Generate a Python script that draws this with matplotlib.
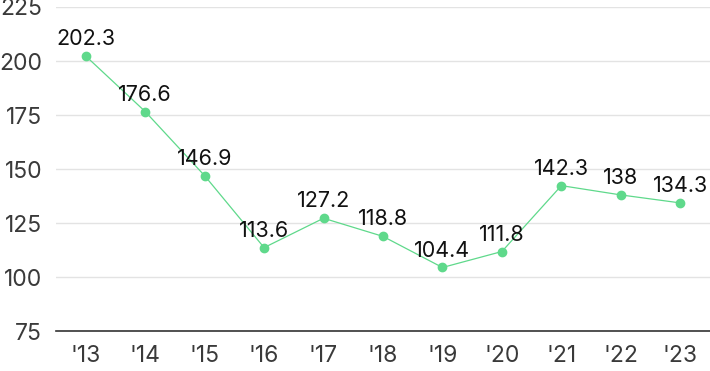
import matplotlib
matplotlib.use("Agg")
import matplotlib.pyplot as plt

plt.rcParams['font.family'] = ['Inter', 'DejaVu Sans']

years = ["'13", "'14", "'15", "'16", "'17", "'18", "'19", "'20", "'21", "'22", "'23"]
values = [202.3, 176.6, 146.9, 113.6, 127.2, 118.8, 104.4, 111.8, 142.3, 138, 134.3]
labels = ["202.3", "176.6", "146.9", "113.6", "127.2", "118.8", "104.4", "111.8", "142.3", "138", "134.3"]
yticks = [75, 100, 125, 150, 175, 200, 225]

fig = plt.figure(figsize=(7.1, 3.71), dpi=100)
ax = fig.add_axes([56/710, 40/371, 654/710, 324/371])

xs = list(range(len(years)))
ax.plot(xs, values, color='#5fd98b', lw=0.9, marker='o', ms=6, mec='#5fd98b', mfc='#5fd98b', zorder=3)
for x, v, t in zip(xs, values, labels):
    ax.annotate(t, (x, v), xytext=(0, 5), textcoords='offset points', ha='center', va='bottom',
                fontsize=15.5, color='#111111', zorder=4)

ax.set_xlim(-0.5, 10.5)
ax.set_ylim(75, 225)
ax.set_yticks(yticks)
ax.set_xticks(xs)
ax.set_xticklabels(years)
ax.grid(axis='y', color='#e3e3e3', lw=1)
ax.set_axisbelow(True)
for s in ['top', 'right', 'left']:
    ax.spines[s].set_visible(False)
ax.spines['bottom'].set_color('#333333')
ax.spines['bottom'].set_linewidth(1.2)
ax.tick_params(axis='both', length=0, labelsize=16.5, colors='#3a3a3a')
ax.tick_params(axis='y', pad=10)
ax.tick_params(axis='x', pad=10)

fig.savefig('out.png', dpi=100)
